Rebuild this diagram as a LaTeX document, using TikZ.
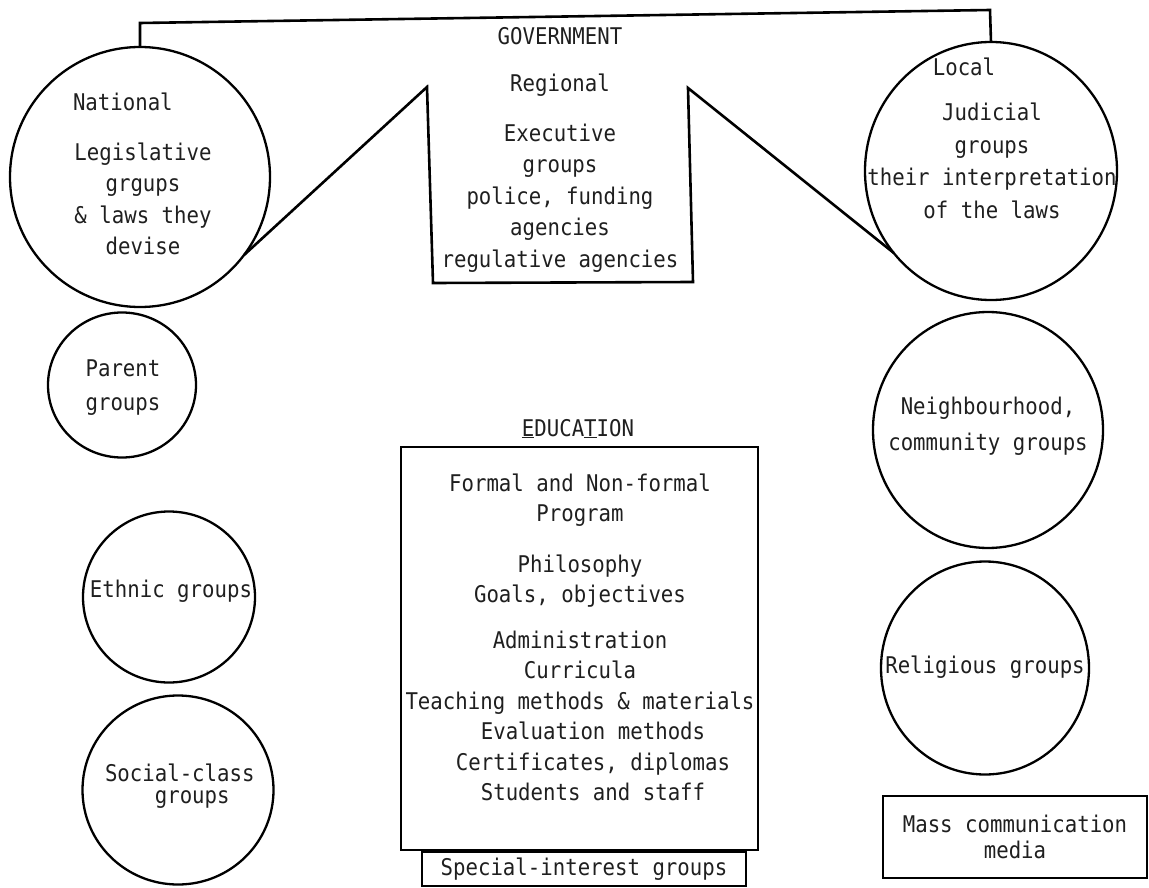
\documentclass[tikz,border=0pt]{standalone}
\usepackage{fontspec}
\newfontfamily\dotfont{DejaVu Sans Mono}[FakeStretch=0.9]
\usetikzlibrary{shapes.geometric}
\begin{document}
\begin{tikzpicture}[x=1pt,y=-1pt,
  % multi-line texts are placed by the baseline of their last line
  txt/.style={font=\dotfont\fontsize{23}{31.5}\selectfont, text=black!88,
    inner sep=0pt, outer sep=0pt, align=center, anchor=base},
  ring/.style={draw=black, ellipse, line width=2.3pt, inner sep=0pt, outer sep=0pt},
  frame/.style={draw=black, line width=2.6pt, line join=miter},
  boxed/.style={frame, rectangle, inner sep=0pt, outer sep=0pt}]
\fill[white] (0,0) rectangle (1149,888);
\useasboundingbox (0,0) rectangle (1149,888);

% ---------- government level ----------
\node[ring, minimum width=260pt, minimum height=260pt] (nat) at (140,177) {};
\node[ring, minimum width=252pt, minimum height=258pt] (loc) at (991,171) {};

\coordinate (tl) at (140,23);
\coordinate (tr) at (990,10);
\coordinate (g1) at (427,87);
\coordinate (g2) at (433,283);
\coordinate (g3) at (693,282);
\coordinate (g4) at (688,88);

\draw[frame] (nat.north) -- (tl) -- (tr) -- (loc.north);
\draw[frame] (nat.-37) -- (g1) -- (g2) -- (g3) -- (g4) -- (loc.220);

\node[txt] (govtxt) at (560,267) {GOVERNMENT\\[15.5pt]Regional\\[18.5pt]Executive\\groups\\police, funding\\agencies\\regulative agencies};

\node[txt, anchor=base west] (natlbl) at (73,111) {National};
\node[txt] (nattxt) at (143,254.5) {Legislative\\grgups\\\& laws they\\devise};

\node[txt] (loclbl) at (964,76) {Local};
\node[txt, font=\dotfont\fontsize{23}{32.5}\selectfont] (loctxt) at (992,218.5) {Judicial\\groups\\their interpretation\\of the laws};

% ---------- groups on the left ----------
\node[ring, minimum width=148pt, minimum height=145pt] (par) at (122,385) {};
\node[txt, font=\dotfont\fontsize{23}{34}\selectfont] (partxt) at (123,410) {Parent\\groups};

\node[ring, minimum width=172pt, minimum height=171pt] (eth) at (169,597) {};
\node[txt] (ethtxt) at (171,597) {Ethnic groups};

\node[ring, minimum width=191pt, minimum height=189pt] (soc) at (178,790) {};
\node[txt, align=left, anchor=base west, font=\dotfont\fontsize{23}{22}\selectfont] (soctxt) at (105,803) {Social-class\\\phantom{Soci}groups};

% ---------- groups on the right ----------
\node[ring, minimum width=230pt, minimum height=236pt] (nbh) at (988,430) {};
\node[txt, font=\dotfont\fontsize{23}{36}\selectfont] (nbhtxt) at (988,450) {Neighbourhood,\\community groups};

\node[ring, minimum width=208pt, minimum height=213pt] (rel) at (985,668) {};
\node[txt] (reltxt) at (985,673) {Religious groups};

\node[boxed, txt, anchor=center, minimum width=264pt, minimum height=82pt,
      font=\dotfont\fontsize{23}{26}\selectfont] (mass) at (1015,837) {Mass communication\\media};

% ---------- education ----------
\node[txt] (edulbl) at (578,436) {\underline{E}DUCA\underline{T}ION};
\node[boxed, minimum width=357pt, minimum height=403pt] (edu) at (579.5,648.5) {};
\node[txt, font=\dotfont\fontsize{23}{30.5}\selectfont] (edutxt) at (580,800.5)
  {Formal and Non-formal\\Program\\[20pt]Philosophy\\Goals, objectives\\[15pt]Administration\\Curricula\\Teaching methods \& materials\\\hspace*{26pt}Evaluation methods\\\hspace*{26pt}Certificates, diplomas\\\hspace*{26pt}Students and staff};

\node[boxed, txt, anchor=center, minimum width=324pt, minimum height=34pt] (spec) at (584,869) {Special-interest groups};
\end{tikzpicture}
\end{document}
